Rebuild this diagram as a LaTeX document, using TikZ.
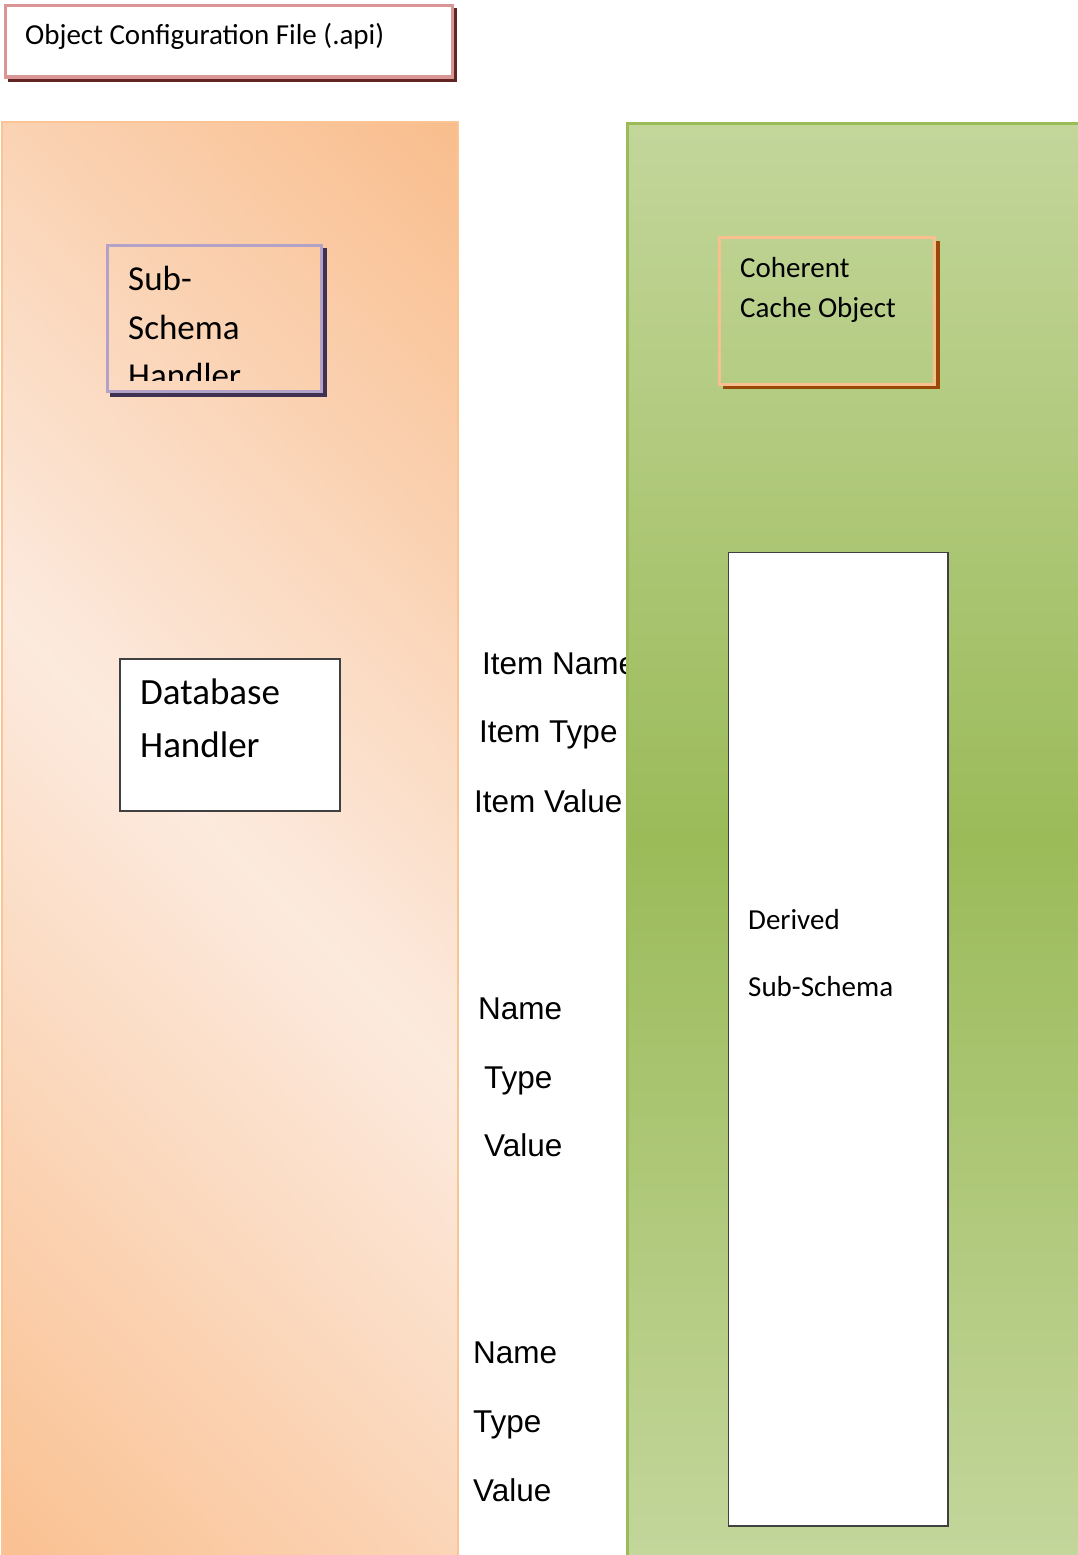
\documentclass[tikz,border=0pt]{standalone}
\usepackage{fontspec}
\setmainfont{Carlito}
\newfontfamily\arialf{Liberation Sans}
\definecolor{pinkB}{HTML}{D99694}
\definecolor{shRed}{HTML}{632523}
\definecolor{orTR}{HTML}{F9BD8C}
\definecolor{orBL}{HTML}{FAC090}
\definecolor{orL}{HTML}{FCEADE}
\definecolor{orB}{HTML}{FAC493}
\definecolor{gT}{HTML}{C3D69B}
\definecolor{gM}{HTML}{9BBB59}
\definecolor{gBorder}{HTML}{9BBB59}
\definecolor{lav}{HTML}{B3A2C7}
\definecolor{lavSh}{HTML}{3F3151}
\definecolor{cohB}{HTML}{F9BF8F}
\definecolor{cohSh}{HTML}{984807}
\definecolor{boxB}{HTML}{404040}
\begin{document}
\begin{tikzpicture}[x=1pt,y=-1pt,
  lbl/.style={inner sep=0pt, anchor=base west, font=\fontsize{29}{35}\selectfont},
  lblbig/.style={inner sep=0pt, anchor=base west, font=\fontsize{35}{42}\selectfont},
  lbldb/.style={inner sep=0pt, anchor=base west, font=\fontsize{37}{44}\selectfont},
  itm/.style={inner sep=0pt, anchor=base west, font=\arialf\fontsize{31.5}{37}\selectfont},
  plainbox/.style={draw=boxB, line width=1.2pt, fill=white}]
\useasboundingbox (0,0) rectangle (1078,1555);
\fill[white] (0,0) rectangle (1078,1555);
% top box
\fill[shRed] (8,8) rectangle (457,82);
\draw[pinkB, line width=3pt, fill=white] (5.5,5.5) rectangle (452,77);
\node[lbl] (cfg) at (25,45) {Object Configuration File (.api)};
% orange panel
\begin{scope}
  \clip (2,122) rectangle (458,1560);
  \shade[top color=orTR, bottom color=orBL, middle color=orL,
    transform canvas={rotate around={-45.7:(229,845)}}]
    (-671,175) rectangle (1129,1515);
\end{scope}
\draw[orB, line width=2pt] (2,1560) -- (2,122) -- (458,122) -- (458,1560);
% sub-schema handler
\fill[lavSh] (110,393) rectangle (327,397);
\fill[lavSh] (323,248) rectangle (327,397);
\draw[lav, line width=3pt] (107.5,245.5) rectangle (321.5,391.5);
\begin{scope}
  \clip (109,247) rectangle (320,380);
  \node[lblbig] (ss1) at (128,290) {Sub-};
  \node[lblbig] (ss2) at (128,339) {Schema};
  \node[lblbig] (ss3) at (128,387) {Handler};
\end{scope}
% database handler
\draw[plainbox] (120,659) rectangle (340,811);
\node[lbldb] (db1) at (140,704) {Database};
\node[lbldb] (db2) at (140,757) {Handler};
% item labels
\node[itm] (in1) at (482,674) {Item Name};
\node[itm] (in2) at (479,742) {Item Type};
\node[itm] (in3) at (474,812) {Item Value};
\node[itm] (n1) at (478,1019) {Name};
\node[itm] (t1) at (484,1088) {Type};
\node[itm] (v1) at (484,1156) {Value};
\node[itm] (n2) at (473,1363) {Name};
\node[itm] (t2) at (473,1432) {Type};
\node[itm] (v2) at (473,1501) {Value};
% green panel
\shade[top color=gT, bottom color=gT, middle color=gM] (627,123) rectangle (1080,1555);
\draw[gBorder, line width=3pt] (627.5,1560) -- (627.5,123.5) -- (1080,123.5);
% coherent cache object
\fill[cohSh] (723,385) rectangle (940,389);
\fill[cohSh] (936,241) rectangle (940,389);
\draw[cohB, line width=3pt] (719.5,237.5) rectangle (934.5,384);
\node[lbl] (co1) at (740,277) {Coherent};
\node[lbl] (co2) at (740,317) {Cache Object};
% derived sub-schema
\draw[plainbox] (728.5,552.5) rectangle (948,1526);
\node[lbl] (ds1) at (748,929) {Derived};
\node[lbl] (ds2) at (748,996) {Sub-Schema};
\end{tikzpicture}
\end{document}
